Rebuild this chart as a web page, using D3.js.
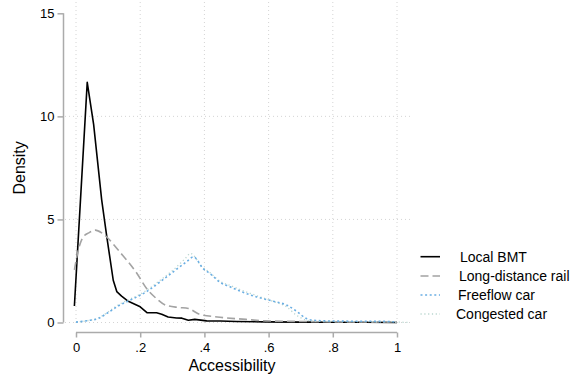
<!DOCTYPE html>
<html>
<head>
<meta charset="utf-8">
<script src="https://cdn.jsdelivr.net/npm/d3@7"></script>
<style>
  html, body { margin: 0; padding: 0; background: #fff; }
  svg { display: block; font-family: "Liberation Sans", Arial, Helvetica, sans-serif; }
</style>
</head>
<body>
<svg id="chart" width="570" height="378"></svg>
<script>
// Kernel density estimates of accessibility by mode
const localBMTx = [-0.005, 0.035, 0.055, 0.08, 0.096, 0.116, 0.127, 0.142, 0.163, 0.2, 0.222, 0.251, 0.267, 0.287, 0.313, 0.33, 0.35, 0.37, 0.407, 0.45, 0.5, 0.59, 0.7, 0.8, 0.9, 1.0];
const localBMTy = [0.8, 11.65, 9.6, 5.95, 4.15, 2.05, 1.5, 1.28, 1.03, 0.76, 0.47, 0.47, 0.4, 0.27, 0.22, 0.21, 0.11, 0.15, 0.08, 0.07, 0.05, 0.03, 0.02, 0.01, 0.01, 0.0];

const railX = [-0.005, 0.007, 0.023, 0.04, 0.06, 0.08, 0.095, 0.136, 0.19, 0.22, 0.25, 0.28, 0.32, 0.35, 0.385, 0.44, 0.53, 0.59, 0.7, 0.8, 0.9, 1.0];
const railY = [2.55, 3.5, 4.16, 4.35, 4.48, 4.35, 4.16, 3.43, 2.38, 1.65, 1.17, 0.84, 0.73, 0.68, 0.4, 0.27, 0.15, 0.08, 0.05, 0.03, 0.03, 0.02];

const freeflowX = [0, 0.04, 0.07, 0.096, 0.137, 0.168, 0.22, 0.262, 0.303, 0.345, 0.366, 0.397, 0.417, 0.449, 0.48, 0.511, 0.563, 0.615, 0.657, 0.687, 0.718, 0.739, 0.8, 0.9, 0.97, 1.0];
const freeflowY = [0.02, 0.1, 0.2, 0.44, 0.85, 1.08, 1.5, 1.97, 2.46, 2.95, 3.18, 2.6, 2.38, 1.95, 1.73, 1.52, 1.24, 1.03, 0.84, 0.55, 0.19, 0.11, 0.07, 0.06, 0.05, 0.01];

const congestedX = [0, 0.04, 0.07, 0.096, 0.137, 0.168, 0.22, 0.262, 0.303, 0.34, 0.357, 0.39, 0.417, 0.449, 0.48, 0.511, 0.563, 0.615, 0.656, 0.687, 0.72, 0.75, 0.8, 0.9, 1.0, 1.04];
const congestedY = [0.02, 0.1, 0.22, 0.47, 0.9, 1.13, 1.56, 2.05, 2.55, 3.1, 3.35, 2.75, 2.42, 2.0, 1.8, 1.6, 1.3, 1.02, 0.76, 0.35, 0.11, 0.06, 0.05, 0.04, 0.02, 0.0];

const xTicks = [0, 0.2, 0.4, 0.6, 0.8, 1];
const xTickLabels = ["0", ".2", ".4", ".6", ".8", "1"];
const yTicks = [0, 5, 10, 15];
const yGrid = [0, 5, 10];

const seriesNames = ["Local BMT", "Long-distance rail", "Freeflow car", "Congested car"];

const series = [
  { name: seriesNames[0], xs: localBMTx, ys: localBMTy, color: "#000000", width: 1.6, dash: null, curve: d3.curveLinear },
  { name: seriesNames[1], xs: railX, ys: railY, color: "#a3a3a3", width: 1.6, dash: "8,4", curve: d3.curveMonotoneX },
  { name: seriesNames[3], xs: congestedX, ys: congestedY, color: "#b9d6cf", width: 1.3, dash: "1.2,2.6", curve: d3.curveMonotoneX },
  { name: seriesNames[2], xs: freeflowX, ys: freeflowY, color: "#6aaee3", width: 1.6, dash: "2,2.6", curve: d3.curveMonotoneX }
];

const svg = d3.select("#chart");
const x = d3.scaleLinear().domain([0, 1]).range([76, 397]);
const y = d3.scaleLinear().domain([0, 15]).range([322.5, 13.3]);

const plotLeft = 65, plotRight = 410, plotTop = 2, plotBottom = 326;

// dotted gridlines
const grid = svg.append("g").attr("stroke", "#d4d4d4").attr("stroke-width", 1).attr("stroke-dasharray", "1,3");
grid.selectAll("line.v").data(xTicks).join("line")
  .attr("x1", d => x(d)).attr("x2", d => x(d))
  .attr("y1", plotTop).attr("y2", plotBottom);
grid.selectAll("line.h").data(yGrid).join("line")
  .attr("x1", plotLeft).attr("x2", plotRight)
  .attr("y1", d => y(d)).attr("y2", d => y(d));

// y axis
const yAxis = svg.append("g").attr("transform", "translate(63.5,0)")
  .call(d3.axisLeft(y).tickValues(yTicks).tickSize(6).tickPadding(3).tickFormat(d3.format("d")));
// x axis
const xAxis = svg.append("g").attr("transform", "translate(0,332.5)")
  .call(d3.axisBottom(x).tickValues(xTicks).tickSize(5).tickPadding(5).tickFormat((d, i) => xTickLabels[i]));

[yAxis, xAxis].forEach(a => {
  a.select(".domain").attr("stroke", "#ababab").attr("stroke-width", 1.5);
  a.selectAll(".tick line").attr("stroke", "#ababab").attr("stroke-width", 1.5);
  a.selectAll(".tick text").attr("fill", "#000").attr("font-size", 13)
    .attr("font-family", "Liberation Sans, Arial, sans-serif");
});
yAxis.select(".domain").attr("d", `M0,${y(0)}V${y(15)}`);
xAxis.select(".domain").attr("d", `M${x(0)},0H${x(1)}`);

// axis titles
svg.append("text").attr("x", 232).attr("y", 371).attr("text-anchor", "middle")
  .attr("font-size", 16).text("Accessibility");
svg.append("text").attr("transform", `translate(25,${(y(0) + y(15)) / 2}) rotate(-90)`)
  .attr("text-anchor", "middle").attr("font-size", 16).text("Density");

// density curves
series.forEach(s => {
  const pts = s.xs.map((v, i) => [v, s.ys[i]]);
  svg.append("path").datum(pts)
    .attr("fill", "none")
    .attr("stroke", s.color)
    .attr("stroke-width", s.width)
    .attr("stroke-dasharray", s.dash)
    .attr("stroke-linejoin", "round")
    .attr("d", d3.line().x(d => x(d[0])).y(d => y(d[1])).curve(s.curve));
});

// legend
const legendItems = [
  { s: series[0], ky: 256.7, tx: 460 },
  { s: series[1], ky: 276, tx: 459 },
  { s: series[3], ky: 295, tx: 458 },
  { s: series[2], ky: 314, tx: 456 }
];
const legend = svg.append("g");
legendItems.forEach(it => {
  legend.append("line")
    .attr("x1", 420.5).attr("x2", 440).attr("y1", it.ky).attr("y2", it.ky)
    .attr("stroke", it.s.color).attr("stroke-width", it.s.width)
    .attr("stroke-dasharray", it.s.dash);
  legend.append("text").attr("x", it.tx).attr("y", it.ky + 5)
    .attr("font-size", 14).text(it.s.name);
});
</script>
</body>
</html>
